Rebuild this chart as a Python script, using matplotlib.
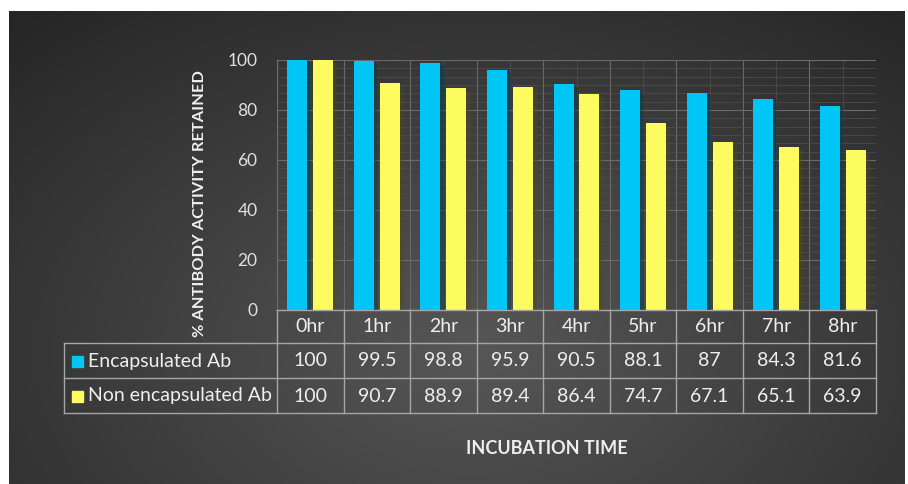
import numpy as np
import matplotlib
matplotlib.use("Agg")
import matplotlib.pyplot as plt
import matplotlib.patheffects as pe
from matplotlib.ticker import MultipleLocator
from matplotlib.transforms import blended_transform_factory

# Antibody activity data
hours = ["0hr", "1hr", "2hr", "3hr", "4hr", "5hr", "6hr", "7hr", "8hr"]
encapsulated = [100, 99.5, 98.8, 95.9, 90.5, 88.1, 87, 84.3, 81.6]
non_encapsulated = [100, 90.7, 88.9, 89.4, 86.4, 74.7, 67.1, 65.1, 63.9]
series_names = ["Encapsulated Ab", "Non encapsulated Ab"]

CYAN = "#00c6f5"
YELLOW = "#fcfc60"
TEXT = "#efefef"
GRID = "#a6a6a6"

plt.rcParams['font.family'] = ['Lato', 'DejaVu Sans']

W, H = 908, 484
fig = plt.figure(figsize=(W / 100, H / 100), dpi=100, facecolor="white")

def fx(px):
    return px / W

def fy(py):
    return 1 - py / H

# dark radial backdrop
bg = fig.add_axes([fx(9), 0, fx(905) - fx(9), fy(11)])
bg.set_axis_off()
yy, xx = np.mgrid[0:1:300j, 0:1:600j]
r = np.sqrt(((xx - 0.52) / 0.75) ** 2 + ((yy - 0.72) / 0.95) ** 2)
shade = np.clip(1 - r, 0, 1)
dark, light = 0.15, 0.34
img = dark + (light - dark) * shade
bg.imshow(np.dstack([img, img, img]), aspect="auto", extent=[0, 1, 0, 1], origin="upper")

# plot area
x0, x1, ytop, ybot = 277, 876, 60, 310
ax = fig.add_axes([fx(x0), fy(ybot), fx(x1) - fx(x0), fy(ytop) - fy(ybot)])
ax.patch.set_alpha(0)

x = np.arange(len(hours))
shadow = [pe.SimplePatchShadow(offset=(3, -2), alpha=0.45), pe.Normal()]
ax.bar(x - 0.195, encapsulated, width=0.30, color=CYAN, zorder=3, path_effects=shadow)
ax.bar(x + 0.195, non_encapsulated, width=0.30, color=YELLOW, zorder=3, path_effects=shadow)

ax.set_xlim(-0.5, len(hours) - 0.5)
ax.set_ylim(0, 100)
ax.yaxis.set_major_locator(MultipleLocator(20))
ax.yaxis.set_minor_locator(MultipleLocator(10 / 3))
ax.set_xticks(x - 0.5, minor=False)
ax.set_xticks(x, minor=True)
ax.set_xticklabels([])
ax.grid(True, which="major", color="#6a6a6a", lw=0.8, zorder=0)
ax.grid(True, which="minor", color="#505050", lw=0.5, zorder=0)
ax.tick_params(axis="x", which="both", length=0)
ax.tick_params(axis="y", which="both", length=0, pad=14, labelsize=12.5, labelcolor="#e0e0e0")
for side in ["top", "right", "bottom"]:
    ax.spines[side].set_visible(False)
ax.spines["left"].set_color("#6e6e6e")

ax.set_ylabel("% ANTIBODY ACTIVITY RETAINED", color=TEXT, fontsize=11.8,
              fontweight="bold", labelpad=10)
ax.yaxis.set_label_coords((207 - x0) / (x1 - x0), (ybot - 204) / (ybot - ytop))

# data table under the bars
tr = blended_transform_factory(ax.transData, ax.transAxes)

def ay(py):
    return (ybot - py) / (ybot - ytop)

rows = [310, 343, 378, 413]
label_left = (64 - x0) / (x1 - x0)
for i, yline in enumerate(rows):
    xs = 0 if i == 0 else label_left
    ax.plot([xs, 1], [ay(yline)] * 2, color=GRID, lw=1, transform=ax.transAxes,
            clip_on=False, zorder=4)
ax.plot([label_left] * 2, [ay(343), ay(413)], color=GRID, lw=1, transform=ax.transAxes,
        clip_on=False)
for b in range(len(hours) + 1):
    ax.plot([b - 0.5] * 2, [ay(310), ay(413)], color=GRID, lw=1, transform=tr, clip_on=False)

for i, h in enumerate(hours):
    ax.text(i, ay(327), h, transform=tr, ha="center", va="center", color=TEXT, fontsize=14)
    ax.text(i, ay(361), f"{encapsulated[i]:g}", transform=tr, ha="center", va="center",
            color=TEXT, fontsize=14)
    ax.text(i, ay(396), f"{non_encapsulated[i]:g}", transform=tr, ha="center", va="center",
            color=TEXT, fontsize=14)

for name, color, yc in zip(series_names, [CYAN, YELLOW], [361, 396]):
    sq = plt.Rectangle(((72 - x0) / (x1 - x0), ay(yc + 6)), 11 / (x1 - x0), 11 / (ybot - ytop),
                       transform=ax.transAxes, color=color, clip_on=False)
    ax.add_patch(sq)
    ax.text((88 - x0) / (x1 - x0), ay(yc), name, transform=ax.transAxes, ha="left",
            va="center", color=TEXT, fontsize=14)

fig.text(fx(547), fy(449), "INCUBATION TIME", ha="center", va="center", color=TEXT,
         fontsize=13, fontweight="bold")

fig.savefig("out.png", dpi=100, facecolor="white")
